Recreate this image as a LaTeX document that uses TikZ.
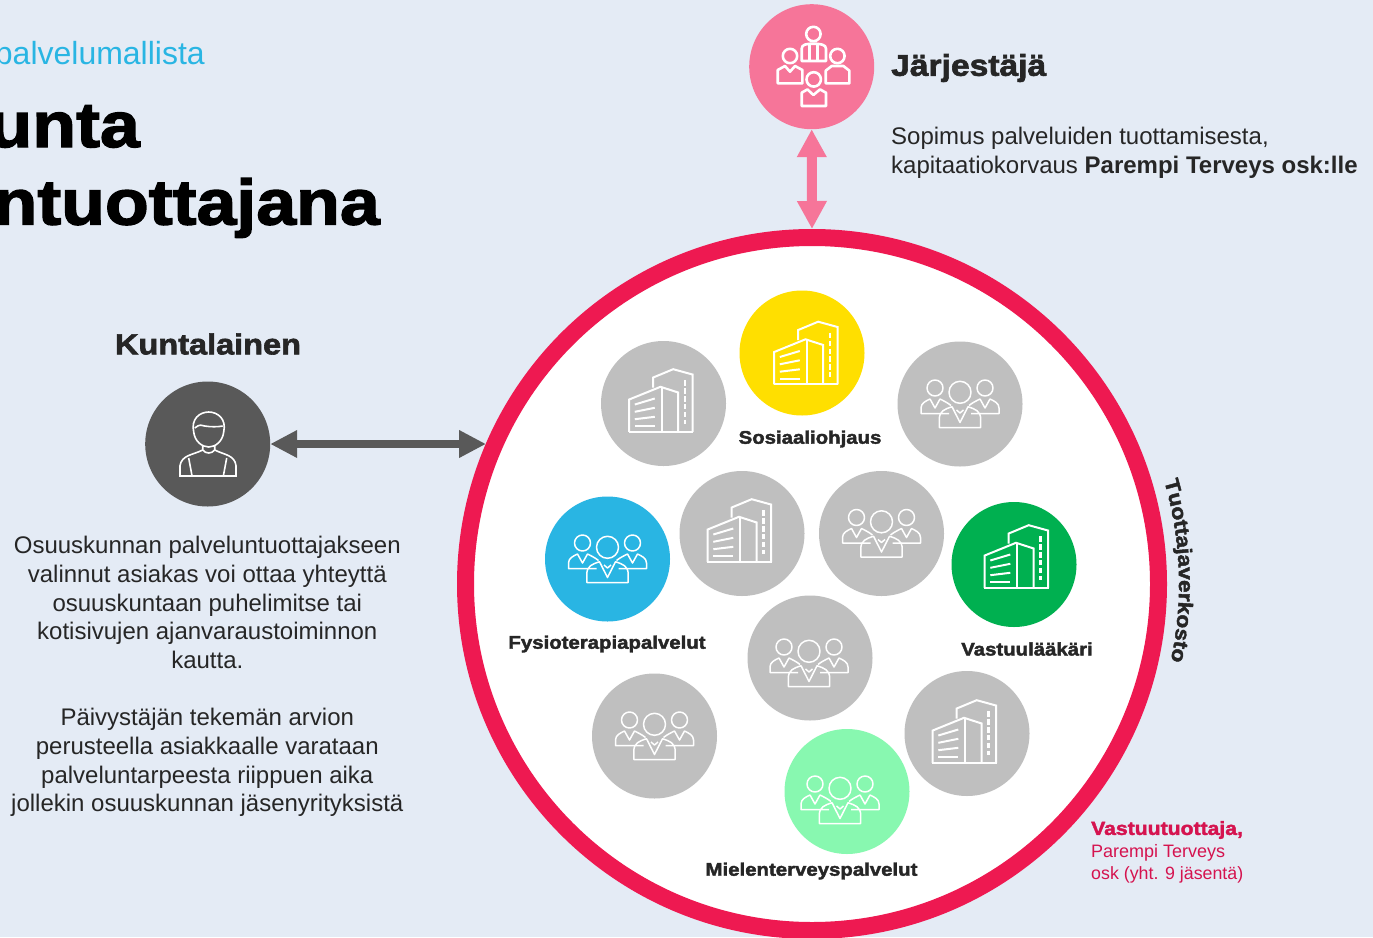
\documentclass[tikz,border=0pt]{standalone}
\usepackage{fontspec}
\setmainfont{Liberation Sans}
\newfontfamily\heavy[FakeBold=2.2,FakeStretch=1.12]{Liberation Sans Bold}
\usetikzlibrary{arrows.meta,decorations.text}
\definecolor{bgc}{HTML}{E4EBF5}
\definecolor{ringc}{HTML}{EE1951}
\definecolor{pinkc}{HTML}{F67599}
\definecolor{darkc}{HTML}{595959}
\definecolor{greyc}{HTML}{BFBFBF}
\definecolor{yellowc}{HTML}{FFDF00}
\definecolor{greenc}{HTML}{00B050}
\definecolor{bluec}{HTML}{29B5E3}
\definecolor{mintc}{HTML}{88F8B0}
\definecolor{textc}{HTML}{262626}
\definecolor{redtext}{HTML}{D5134F}
\tikzset{
  disc/.style={circle,draw=none,fill=#1,minimum size=125pt,inner sep=0pt,outer sep=0pt},
  tag/.style={font=\heavy\fontsize{18.2}{20}\selectfont,text=textc,inner sep=0pt},
  headline/.style={font=\heavy\fontsize{29}{32}\selectfont,text=textc,inner sep=0pt},
  bodytext/.style={font=\fontsize{24}{28.7}\selectfont,text=textc,inner sep=0pt},
  bldgicon/.pic={
    \begin{scope}[draw=white,line width=2pt,line join=miter]
      \draw (-10.3,-16)--(-10.3,-26)--(9.7,-34.3)--(29,-29)--(29,28.3);
      \draw (-34.3,28.3)--(-34.3,-4)--(-3,-16.7)--(14.7,-11)--(14.7,28.3);
      \draw (-35,28.3)--(29.8,28.3);
      \draw (-2,-16.7)--(-2,28.3);
      \draw (-28.7,1)--(-8.7,-5);
      \draw (-28.7,8.3)--(-8.7,4.3);
      \draw (-28.7,15.7)--(-8.7,13.3);
      \draw (-28.7,22.7)--(-8.7,22.7);
      \draw[line width=2.6pt,dash pattern=on 5.5pt off 2.4pt] (21.3,-23.3)--(21.3,20.7);
    \end{scope}},
  peopleicon/.pic={
    \begin{scope}[draw=white,line width=1.5pt,line join=round]
      \draw (0,-11.7) circle (11);
      \draw (-25,-16) circle (8);
      \draw (25,-16) circle (8);
      \draw (-20.7,23.5)--(-20.7,15) .. controls (-20.7,7) and (-15,5) .. (-8,2.7)--(0,18.5)--(8,2.7) .. controls (15,5) and (20.7,7) .. (20.7,15)--(20.7,23.5)--cycle;
      \draw (-3.5,6)--(0,9)--(3.5,6);
      \draw (-11,9.5)--(-39,9.5)--(-39,4) .. controls (-39,-1) and (-34,-3) .. (-30,-5)--(-25,4)--(-20,-5) .. controls (-16,-3) and (-12,-1) .. (-9,1.5);
      \draw (11,9.5)--(39,9.5)--(39,4) .. controls (39,-1) and (34,-3) .. (30,-5)--(25,4)--(20,-5) .. controls (16,-3) and (12,-1) .. (9,1.5);
    \end{scope}},
  personicon/.pic={
    \begin{scope}[draw=white,line width=1.6pt,line join=round]
      \draw (-14,-12) .. controls (-17,-25) and (-8,-32) .. (1,-32) .. controls (10,-32) and (19,-25) .. (16,-12) .. controls (15,-3) and (8,3) .. (1,3) .. controls (-6,3) and (-13,-3) .. (-14,-12);
      \draw (-13,-16) .. controls (-8,-20) and (-6,-19) .. (-3,-18) .. controls (3,-17) and (10,-17) .. (15,-18);
      \draw (-5,2)--(-5,6) .. controls (-2,10) and (4,10) .. (7,6)--(7,2);
      \draw (-5,6) .. controls (-15,11) and (-26,11) .. (-27.7,21.7)--(-27.7,31.7);
      \draw (7,6) .. controls (17,11) and (27,11) .. (28.3,21.7)--(28.3,31.7);
      \draw (-28.5,31.7)--(29,31.7);
      \draw (-19,14)--(-15.7,31.7);
      \draw (19,14)--(15.7,31.7);
    \end{scope}},
  groupicon/.pic={
    \begin{scope}[draw=white,line width=2.6pt,line join=round]
      \draw (1.7,-32.7) circle (7.2);
      \draw (-21.7,-10.7) circle (7.2);
      \draw (25.7,-10.7) circle (7.2);
      \draw (2,12.7) circle (7.2);
      \draw (-10,-5.7)--(-10,-18) .. controls (-10,-22) and (-6,-23) .. (1.7,-23) .. controls (9,-23) and (14.3,-22) .. (14.3,-18)--(14.3,-5.7)--cycle;
      \draw (-2.5,-22)--(-2.5,-5.7);
      \draw (6,-22)--(6,-5.7);
      \draw (-34,16.7)--(-34,3.3)--(-26.7,-0.7)--(-21.7,5)--(-16.7,-0.7)--(-9.3,3.3)--(-9.3,16.7)--cycle;
      \draw (14,16.7)--(14,4)--(20,-0.7)--(31.7,-0.7)--(37.7,4)--(37.7,16.7)--cycle;
      \draw (-10,39.3)--(-10,26)--(-4.3,22.7)--(1.7,28.3)--(8.3,22.7)--(14.3,26)--(14.3,39.3)--cycle;
    \end{scope}}
}
\begin{document}
\begin{tikzpicture}[x=1pt,y=-1pt]
  \useasboundingbox (0,0) rectangle (1373,937);
  \fill[bgc] (0,0) rectangle (1373,937);

  % network ring
  \node[circle,draw=ringc,line width=17pt,fill=white,minimum size=693pt,inner sep=0pt,outer sep=8.5pt] (ring) at (812,584) {};

  % heading
  \node[anchor=base east,inner sep=0pt,text=bluec,font=\fontsize{32}{36}\selectfont] (sub) at (205,64) {palvelumallista};
  \node[anchor=base east,inner sep=0pt,text=black,font=\heavy\fontsize{64}{70}\selectfont] (t1) at (140,147) {unta};
  \node[anchor=base east,inner sep=0pt,text=black,font=\heavy\fontsize{64}{70}\selectfont] (t2) at (380,224.5) {ntuottajana};

  % main discs
  \node[disc=pinkc] (org) at (811.7,66.7) {};
  \pic at (org) {groupicon};
  \node[disc=darkc] (citizen) at (207.7,444) {};
  \pic at (citizen) {personicon};

  \node[disc=greyc] (b1) at (663.5,403.5) {};
  \node[disc=greyc] (b2) at (742,533.5) {};
  \node[disc=greyc] (b3) at (967,733.5) {};
  \node[disc=yellowc] (b4) at (802,353) {};
  \node[disc=greenc] (b5) at (1014,564.5) {};
  \foreach \n/\dx/\dy in {b1/0/0,b2/0/0,b3/0/1,b4/6.5/3,b5/5/-5} {\pic at ([shift={(\dx,\dy)}]\n) {bldgicon};}

  \node[disc=greyc] (p1) at (960,404) {};
  \node[disc=greyc] (p2) at (881.5,533.5) {};
  \node[disc=greyc] (p3) at (810,658) {};
  \node[disc=greyc] (p4) at (654.5,736) {};
  \node[disc=bluec] (p5) at (607.5,559) {};
  \node[disc=mintc] (p6) at (847,791.5) {};
  \foreach \n/\dx/\dy in {p1/0/0,p2/0/0,p3/-1/5,p4/0/0,p5/0/0,p6/-7/8.5} {\pic at ([shift={(\dx,\dy)}]\n) {peopleicon};}

  % connectors
  \coordinate (touch) at (486,444);
  \draw[pinkc,line width=10pt,{Triangle[length=28pt,width=28pt]}-{Triangle[length=28pt,width=28pt]}] (org.south) -- (ring.north);
  \draw[darkc,line width=8pt,{Triangle[length=27pt,width=26pt]}-{Triangle[length=27pt,width=26pt]}] (citizen.east) -- (touch);

  % labels
  \node[headline,font=\heavy\fontsize{30}{32}\selectfont,anchor=west] (jlabel) at (891,68) {Järjestäjä};
  \node[headline,anchor=center] (klabel) at (208,344) {Kuntalainen};
  \node[tag] (l1) at (810,439) {Sosiaaliohjaus};
  \node[tag] (l2) at (607,644) {Fysioterapiapalvelut};
  \node[tag] (l3) at (1027,649) {Vastuulääkäri};
  \node[tag] (l4) at (811.5,871) {Mielenterveyspalvelut};

  \node[bodytext,anchor=north west,align=left] (jtext) at (891,127) {Sopimus palveluiden tuottamisesta,\\kapitaatiokorvaus \textbf{Parempi Terveys osk:lle}};
  \node[bodytext,anchor=north,align=center] (ktext) at (207.3,536) {Osuuskunnan palveluntuottajakseen\\valinnut asiakas voi ottaa yhteyttä\\osuuskuntaan puhelimitse tai\\kotisivujen ajanvaraustoiminnon\\kautta.\\\mbox{}\\Päivystäjän tekemän arvion\\perusteella asiakkaalle varataan\\palveluntarpeesta riippuen aika\\jollekin osuuskunnan jäsenyrityksistä};

  \node[anchor=west,inner sep=0pt,text=redtext,font=\heavy\fontsize{18.9}{22}\selectfont] (v1) at (1091,830) {Vastuutuottaja,};
  \node[anchor=west,inner sep=0pt,text=redtext,font=\fontsize{18}{22}\selectfont] (v2) at (1091,852.5) {Parempi Terveys};
  \node[anchor=west,inner sep=0pt,text=redtext,font=\fontsize{17.8}{22}\selectfont] (v3) at (1091,874.5) {osk (yht. 9 jäsentä)};

  \path[decorate,decoration={text along path,text align=center,text={|\heavy\fontsize{20.2}{22}\selectfont\color{textc}|Tuottajaverkosto}}]
    plot[smooth,domain=-19.6:15.4,samples=30] ({812+367*cos(\x)},{584+367*sin(\x)});
\end{tikzpicture}
\end{document}
